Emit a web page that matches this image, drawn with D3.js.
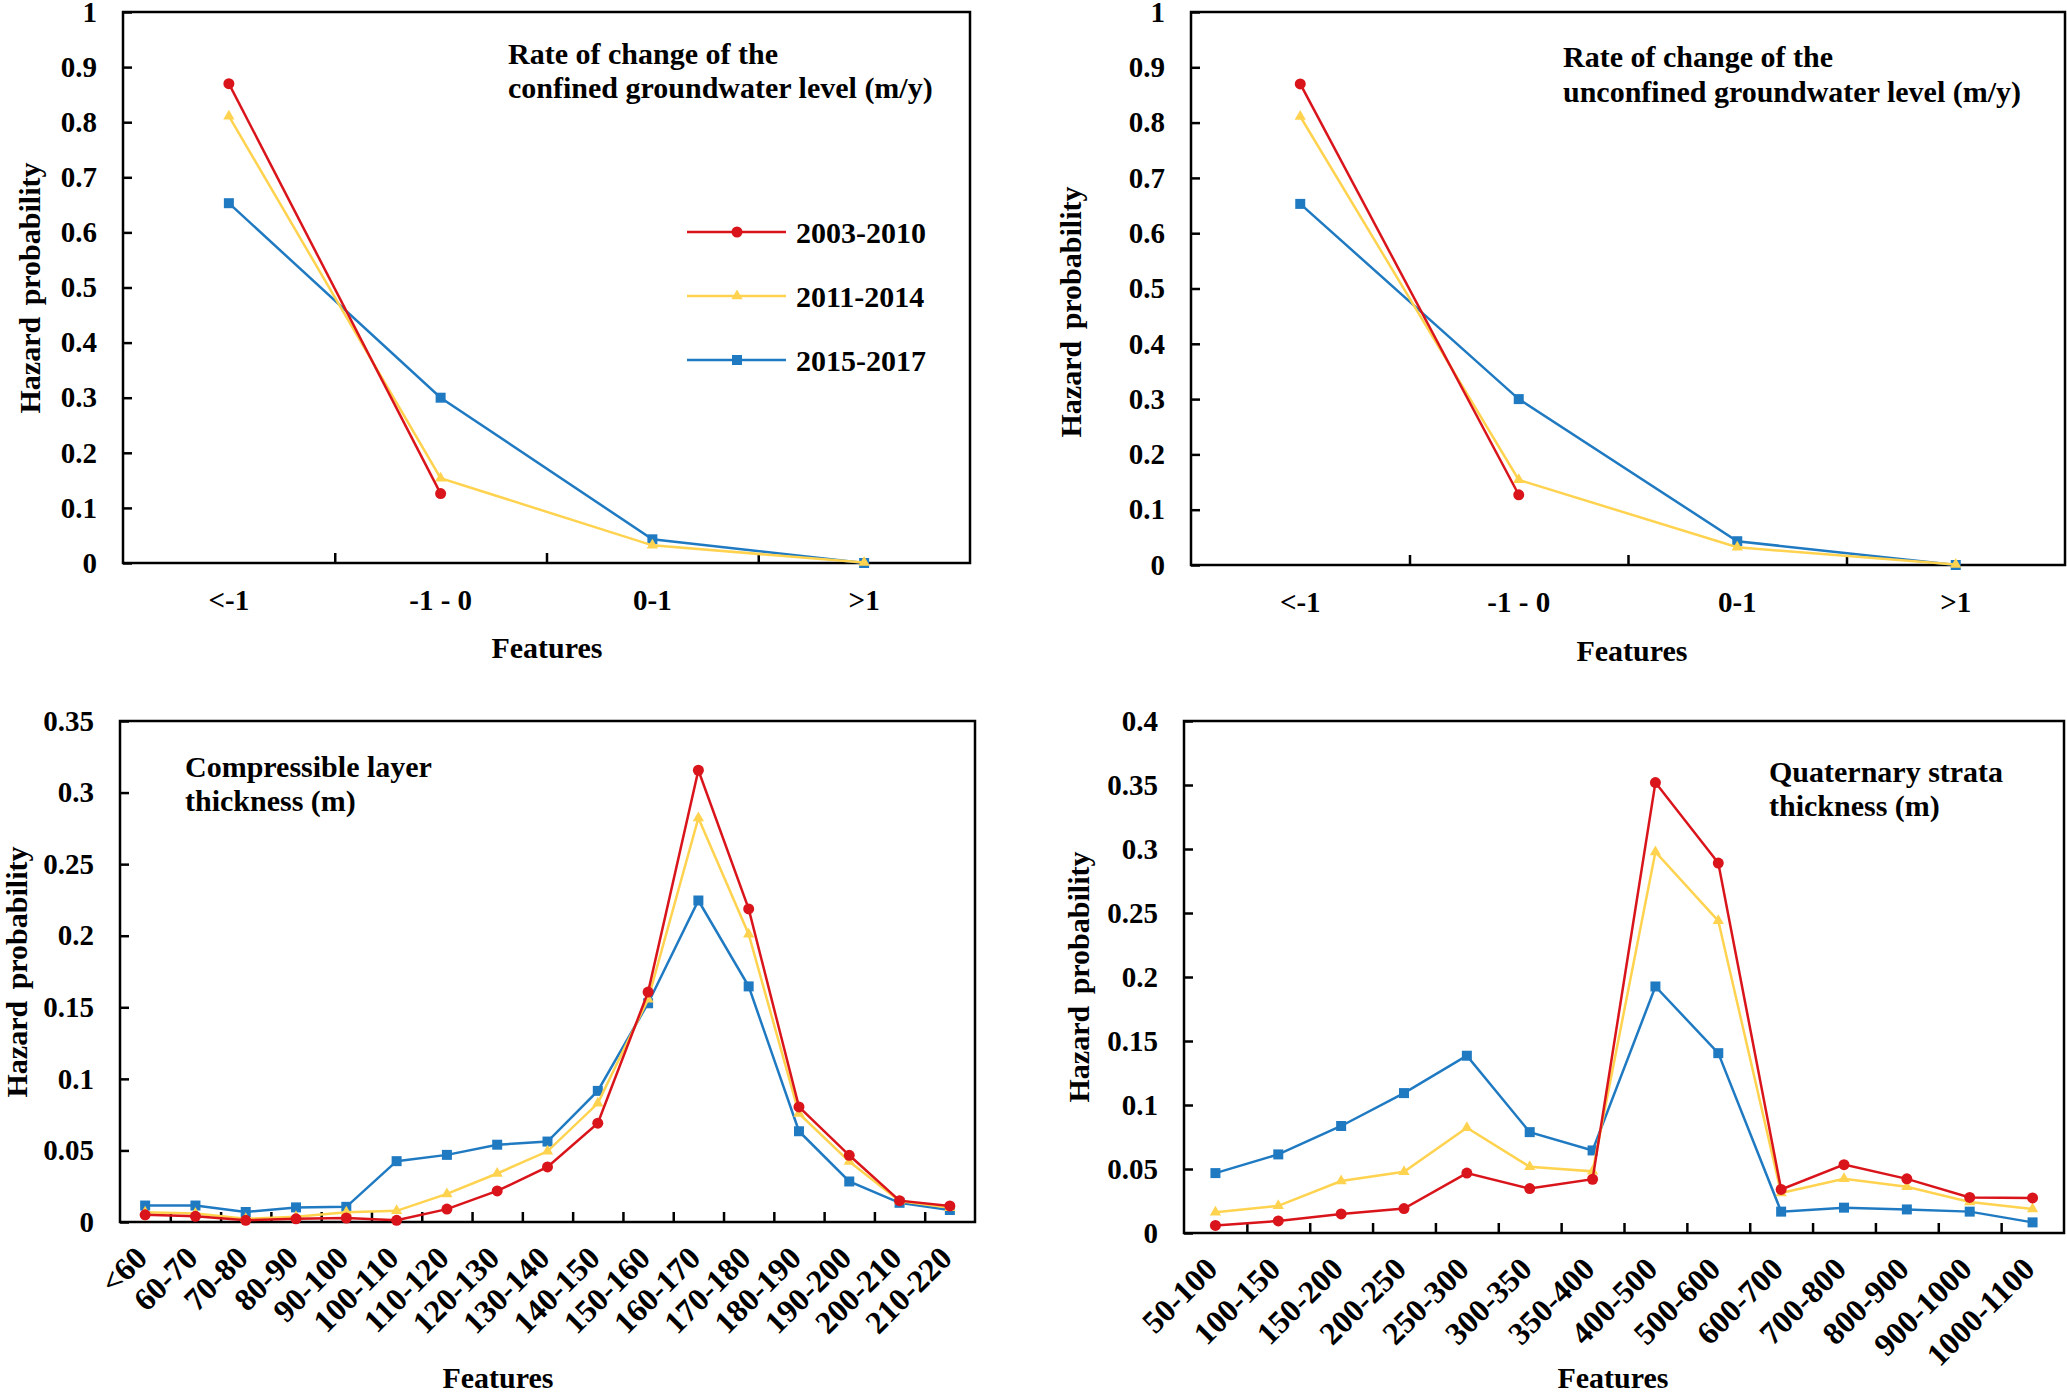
<!DOCTYPE html>
<html>
<head>
<meta charset="utf-8">
<script src="https://cdn.jsdelivr.net/npm/d3@7"></script>
<style>
  body { margin: 0; background: #fff; }
  text { font-family: "Liberation Serif", "Times New Roman", serif; font-weight: bold; fill: #000; }
</style>
</head>
<body>
<svg id="chart"></svg>
<script>
// ---- data ----
const rateCats = ["<-1", "-1 - 0", "0-1", ">1"];
const confined2003 = [0.870, 0.126];
const confined2011 = [0.811, 0.154, 0.032, 0.001];
const confined2015 = [0.653, 0.300, 0.043, 0.000];
const unconfined2003 = [0.870, 0.127];
const unconfined2011 = [0.811, 0.154, 0.032, 0.001];
const unconfined2015 = [0.653, 0.300, 0.043, 0.000];

const compCats = ["<60", "60-70", "70-80", "80-90", "90-100", "100-110", "110-120", "120-130",
  "130-140", "140-150", "150-160", "160-170", "170-180", "180-190", "190-200", "200-210", "210-220"];
const comp2003 = [0.005, 0.004, 0.0012, 0.0022, 0.0028, 0.0012, 0.009, 0.0217, 0.0385, 0.069,
  0.1606, 0.3156, 0.2187, 0.0804, 0.0466, 0.0149, 0.0112];
const comp2011 = [0.0068, 0.0059, 0.0022, 0.0037, 0.0068, 0.0078, 0.0196, 0.0339, 0.0494, 0.0829,
  0.1556, 0.2823, 0.201, 0.0758, 0.0422, 0.0146, 0.0099];
const comp2015 = [0.0115, 0.0115, 0.007, 0.0102, 0.0106, 0.0425, 0.0469, 0.054, 0.0562, 0.0916,
  0.1528, 0.2246, 0.1646, 0.0634, 0.0283, 0.0134, 0.0084];

const quatCats = ["50-100", "100-150", "150-200", "200-250", "250-300", "300-350", "350-400",
  "400-500", "500-600", "600-700", "700-800", "800-900", "900-1000", "1000-1100"];
const quat2003 = [0.0059, 0.0094, 0.0149, 0.0191, 0.0468, 0.0347, 0.042, 0.3519, 0.289, 0.034,
  0.0534, 0.0423, 0.0278, 0.0274];
const quat2011 = [0.0163, 0.0212, 0.0406, 0.0479, 0.0822, 0.0517, 0.0482, 0.2977, 0.2439, 0.0312,
  0.0423, 0.0361, 0.0243, 0.0187];
const quat2015 = [0.0468, 0.0614, 0.0836, 0.1093, 0.1385, 0.0788, 0.0645, 0.1926, 0.1405, 0.0167,
  0.0198, 0.0184, 0.0167, 0.0083];

const seriesNames = ["2003-2010", "2011-2014", "2015-2017"];
const ticksTop = [0, 0.1, 0.2, 0.3, 0.4, 0.5, 0.6, 0.7, 0.8, 0.9, 1];
const ticksComp = [0, 0.05, 0.1, 0.15, 0.2, 0.25, 0.3, 0.35];
const ticksQuat = [0, 0.05, 0.1, 0.15, 0.2, 0.25, 0.3, 0.35, 0.4];

const colors = { "2003-2010": "#d9141b", "2011-2014": "#ffd34f", "2015-2017": "#1f7ac2" };
const shapes = { "2003-2010": d3.symbolCircle, "2011-2014": d3.symbolTriangle, "2015-2017": d3.symbolSquare };
const sizes = { "2003-2010": 95, "2011-2014": 55, "2015-2017": 100 };

const W = 2067, H = 1392;
const svg = d3.select("#chart").attr("width", W).attr("height", H);

const panels = [
  { cats: rateCats, data: [confined2003, confined2011, confined2015], yticks: ticksTop, ymax: 1,
    left: 123, right: 970, top: 12, bottom: 563, rotate: false,
    yTitle: [29, 288], xTitle: [547, 658],
    note: ["Rate of change of the", "confined groundwater level (m/y)"], noteX: 508, noteY: [64, 98],
    legend: true },
  { cats: rateCats, data: [unconfined2003, unconfined2011, unconfined2015], yticks: ticksTop, ymax: 1,
    left: 1191, right: 2065, top: 12, bottom: 565, rotate: false,
    yTitle: [1070, 312], xTitle: [1632, 661],
    note: ["Rate of change of the", "unconfined groundwater level (m/y)"], noteX: 1563, noteY: [67, 102] },
  { cats: compCats, data: [comp2003, comp2011, comp2015], yticks: ticksComp, ymax: 0.35,
    left: 120, right: 975, top: 721, bottom: 1222, rotate: true,
    yTitle: [16, 972], xTitle: [498, 1388],
    note: ["Compressible layer", "thickness (m)"], noteX: 185, noteY: [777, 811] },
  { cats: quatCats, data: [quat2003, quat2011, quat2015], yticks: ticksQuat, ymax: 0.4,
    left: 1184, right: 2064, top: 721, bottom: 1233, rotate: true,
    yTitle: [1078, 977], xTitle: [1613, 1388],
    note: ["Quaternary strata", "thickness (m)"], noteX: 1769, noteY: [782, 816] }
];

const fmt = d => String(+d.toFixed(2));

function drawPanel(p) {
  const g = svg.append("g");
  const x = d3.scaleBand().domain(p.cats).range([p.left, p.right]);
  const y = d3.scaleLinear().domain([0, p.ymax]).range([p.bottom, p.top]);
  const bw = x.bandwidth();

  // y axis, ticks pointing inside
  const ya = g.append("g").attr("transform", `translate(${p.left},0)`)
    .call(d3.axisLeft(y).tickValues(p.yticks).tickFormat(fmt).tickSizeInner(-9).tickSizeOuter(0).tickPadding(26));
  ya.select(".domain").remove();
  ya.selectAll("line").attr("stroke", "#000").attr("stroke-width", 2.5);
  ya.selectAll("text").style("font-size", "29px");

  // x tick marks at category boundaries, inside
  const xb = d3.scaleLinear().domain([0, p.cats.length]).range([p.left, p.right]);
  const xm = g.append("g").attr("transform", `translate(0,${p.bottom})`)
    .call(d3.axisBottom(xb).tickValues(d3.range(1, p.cats.length)).tickFormat("").tickSizeInner(-10).tickSizeOuter(0));
  xm.select(".domain").remove();
  xm.selectAll("line").attr("stroke", "#000").attr("stroke-width", 2.5);

  // x labels
  const xl = g.append("g").attr("transform", `translate(0,${p.bottom})`)
    .call(d3.axisBottom(x).tickSize(0).tickPadding(26));
  xl.select(".domain").remove();
  if (p.rotate) {
    xl.selectAll("text")
      .attr("y", 0).attr("dy", 0)
      .attr("text-anchor", "end")
      .attr("transform", "translate(4,38) rotate(-45)")
      .style("font-size", "32px");
  } else {
    xl.selectAll("text").style("font-size", "29px");
  }

  // frame
  g.append("rect").attr("x", p.left).attr("y", p.top)
    .attr("width", p.right - p.left).attr("height", p.bottom - p.top)
    .attr("fill", "none").attr("stroke", "#000").attr("stroke-width", 2.5);

  // series, drawn blue first so red sits on top
  const line = d3.line().x((d, i) => x(p.cats[i]) + bw / 2).y(d => y(d));
  [2, 1, 0].forEach(k => {
    const name = seriesNames[k];
    const vals = p.data[k];
    g.append("path").datum(vals).attr("d", line)
      .attr("fill", "none").attr("stroke", colors[name]).attr("stroke-width", 2.5);
    g.selectAll(null).data(vals).enter().append("path")
      .attr("d", d3.symbol().type(shapes[name]).size(sizes[name]))
      .attr("transform", (d, i) => `translate(${x(p.cats[i]) + bw / 2},${y(d)})`)
      .attr("fill", colors[name]);
  });

  // axis titles
  g.append("text").attr("text-anchor", "middle").attr("dy", "0.35em")
    .attr("transform", `translate(${p.yTitle[0]},${p.yTitle[1]}) rotate(-90)`)
    .style("font-size", "30px").style("word-spacing", "4px").text("Hazard probability");
  g.append("text").attr("text-anchor", "middle")
    .attr("x", p.xTitle[0]).attr("y", p.xTitle[1])
    .style("font-size", "30px").text("Features");

  // panel note
  p.note.forEach((t, i) => {
    g.append("text").attr("x", p.noteX).attr("y", p.noteY[i]).style("font-size", "30px").text(t);
  });

  if (p.legend) {
    const ly = [232, 296, 360];
    seriesNames.forEach((name, i) => {
      const lg = g.append("g").attr("transform", `translate(0,${ly[i]})`);
      lg.append("line").attr("x1", 687).attr("x2", 786).attr("y1", 0).attr("y2", 0)
        .attr("stroke", colors[name]).attr("stroke-width", 2.5);
      lg.append("path").attr("d", d3.symbol().type(shapes[name]).size(sizes[name]))
        .attr("transform", "translate(737,0)").attr("fill", colors[name]);
      lg.append("text").attr("x", 796).attr("dy", "0.35em").style("font-size", "30px").text(name);
    });
  }
}

panels.forEach(drawPanel);
</script>
</body>
</html>
